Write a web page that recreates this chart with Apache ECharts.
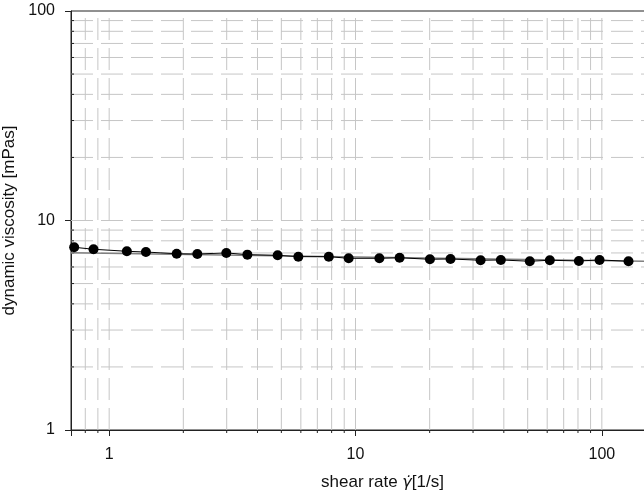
<!DOCTYPE html>
<html>
<head>
<meta charset="utf-8">
<script src="https://cdn.jsdelivr.net/npm/echarts@6/dist/echarts.min.js"></script>
<style>
  html, body { margin: 0; padding: 0; background: #fff; }
  #chart { width: 644px; height: 500px; }
</style>
</head>
<body>
<div id="chart"></div>
<script>
const shearRate = [0.721, 0.864, 1.18, 1.41, 1.88, 2.28, 2.99, 3.64, 4.83, 5.86, 7.79, 9.38,
  12.5, 15.1, 20.05, 24.3, 32.2, 38.9, 51.0, 61.5, 80.7, 97.9, 128.3]
const viscosity = [7.45, 7.29, 7.13, 7.07, 6.94, 6.92, 7.00, 6.87, 6.82, 6.72, 6.72, 6.60,
  6.60, 6.64, 6.53, 6.55, 6.46, 6.48, 6.39, 6.46, 6.41, 6.48, 6.39]

// power-law fit line (grey), end points
const fitRate = [0.7, 200]
const fitVisc = [7.02, 6.35]

// grid / minor tick positions
const xGridValues = [0.8, 0.9, 1, 2, 3, 4, 5, 6, 7, 8, 9, 10, 20, 30, 40, 50, 60, 70, 80, 90, 100]
const yGridValues = [2, 3, 4, 5, 6, 7, 8, 9, 10, 20, 30, 40, 50, 60, 70, 80, 90]
const majorValues = [1, 10, 100]

const FONT = '"Liberation Sans", Arial, sans-serif'
const gridColor = '#c6c6c6'
const axisColor = '#222'

const isPow10 = (v) => Math.abs(Math.log10(v) - Math.round(Math.log10(v))) < 1e-6

const chart = echarts.init(document.getElementById('chart'), null, { renderer: 'canvas' })

// draws dashed grid line + short minor tick for one value
const gridRenderer = (dir) => (params, api) => {
  const cs = params.coordSys
  const v = api.value(dir === 'x' ? 0 : 1)
  const major = majorValues.some(m => Math.abs(m - v) < 1e-9)
  const children = []
  if (dir === 'x') {
    const px = api.coord([v, 1])[0]
    if (px > cs.x + cs.width) return null
    children.push({
      type: 'line',
      shape: { x1: px, y1: cs.y + cs.height, x2: px, y2: cs.y },
      style: { stroke: gridColor, lineWidth: 1, lineDash: [22, 8] }
    })
    if (!major) {
      children.push({
        type: 'line',
        shape: { x1: px, y1: cs.y + cs.height, x2: px, y2: cs.y + cs.height + 3 },
        style: { stroke: axisColor, lineWidth: 1 }
      })
    }
  } else {
    const py = api.coord([1, v])[1]
    children.push({
      type: 'line',
      shape: { x1: cs.x, y1: py, x2: cs.x + cs.width, y2: py },
      style: { stroke: gridColor, lineWidth: 1, lineDash: [22, 8] }
    })
    if (!major) {
      children.push({
        type: 'line',
        shape: { x1: cs.x, y1: py, x2: cs.x + 3, y2: py },
        style: { stroke: axisColor, lineWidth: 1 }
      })
    }
  }
  return { type: 'group', children }
}

const option = {
  animation: false,
  backgroundColor: '#fff',
  grid: {
    left: 71,
    top: 11,
    width: 605,
    height: 419,
    containLabel: false,
    outerBoundsMode: 'none',
    show: true,
    borderColor: axisColor,
    borderWidth: 1,
    backgroundColor: 'transparent'
  },
  xAxis: {
    type: 'log',
    logBase: 10,
    min: 0.7,
    max: 200,
    name: 'shear rate {g|\u03B3\u0307}[1/s]',
    nameLocation: 'middle',
    nameGap: 44,
    nameTextStyle: {
      fontFamily: FONT, fontSize: 17, color: '#111',
      padding: [0, 0, 0, 18],
      rich: { g: { fontFamily: '"DejaVu Sans"', fontSize: 16, fontStyle: 'italic', color: '#111' } }
    },
    axisLine: { show: true, lineStyle: { color: axisColor, width: 1 } },
    axisTick: { show: true, length: 6, lineStyle: { color: axisColor } },
    splitLine: { show: false },
    axisLabel: {
      margin: 17,
      fontFamily: FONT,
      fontSize: 16,
      color: '#111',
      formatter: (v) => isPow10(v) ? String(+v.toPrecision(6)) : ''
    }
  },
  yAxis: {
    type: 'log',
    logBase: 10,
    min: 1,
    max: 100,
    name: 'dynamic viscosity [mPas]',
    nameLocation: 'middle',
    nameGap: 45,
    nameTextStyle: { fontFamily: FONT, fontSize: 17, color: '#111' },
    axisLine: { show: true, lineStyle: { color: axisColor, width: 1 } },
    axisTick: { show: true, length: 6, lineStyle: { color: axisColor } },
    splitLine: { show: false },
    axisLabel: {
      margin: 16,
      fontFamily: FONT,
      fontSize: 16,
      color: '#111',
      formatter: (v) => isPow10(v) ? String(+v.toPrecision(6)) : ''
    }
  },
  series: [
    {
      type: 'custom',
      silent: true,
      z: 1,
      renderItem: gridRenderer('x'),
      data: xGridValues.map(v => [v, 1])
    },
    {
      type: 'custom',
      silent: true,
      z: 1,
      renderItem: gridRenderer('y'),
      data: yGridValues.map(v => [1, v])
    },
    {
      name: 'fit',
      type: 'line',
      z: 3,
      showSymbol: false,
      silent: true,
      lineStyle: { color: '#808080', width: 1.5 },
      data: fitRate.map((x, i) => [x, fitVisc[i]])
    },
    {
      name: 'viscosity',
      type: 'line',
      z: 4,
      symbol: 'circle',
      symbolSize: 10,
      itemStyle: { color: '#000' },
      lineStyle: { color: '#000', width: 1 },
      data: shearRate.map((x, i) => [x, viscosity[i]])
    }
  ]
}

chart.setOption(option)
</script>
</body>
</html>
